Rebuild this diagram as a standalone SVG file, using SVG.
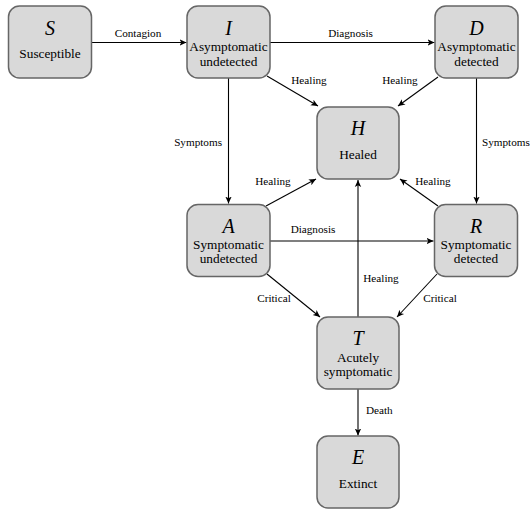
<svg xmlns="http://www.w3.org/2000/svg" width="530" height="510" viewBox="0 0 530 510">
<defs>
<style>
.box{fill:#d9d9d9;stroke:#666;stroke-width:1.5}
.sym{font-style:italic;font-size:20px;text-anchor:middle}
.lbl{font-size:13.3px;text-anchor:middle}
.el{font-size:11.2px}
.ln{stroke:#000;stroke-width:1.1;fill:none;marker-end:url(#ah)}
</style>
<marker id="ah" markerUnits="userSpaceOnUse" markerWidth="10" markerHeight="10" refX="7" refY="4" orient="auto">
<path d="M0,0.8 L7,4 L0,7.2 L1.8,4 Z" fill="#000"/>
</marker>
</defs>
<rect width="530" height="510" fill="#fff"/>
<g font-family="Liberation Serif, DejaVu Serif, serif" fill="#000">
<g id="connectors">
<line class="ln" x1="92" y1="42.5" x2="186.5" y2="42.5"/>
<line class="ln" x1="270" y1="42.5" x2="434.5" y2="42.5"/>
<line class="ln" x1="267" y1="76" x2="318" y2="106"/>
<line class="ln" x1="438" y1="77" x2="398" y2="106"/>
<line class="ln" x1="228.5" y1="78" x2="228.5" y2="203.5"/>
<line class="ln" x1="476.5" y1="78" x2="476.5" y2="203.5"/>
<line class="ln" x1="266" y1="206" x2="316" y2="179"/>
<line class="ln" x1="438" y1="206" x2="400" y2="179"/>
<line class="ln" x1="358" y1="317" x2="358" y2="180"/>
<line class="ln" x1="270" y1="241" x2="433.5" y2="241"/>
<line class="ln" x1="267" y1="274" x2="320" y2="317"/>
<line class="ln" x1="437" y1="274" x2="397" y2="317"/>
<line class="ln" x1="358" y1="389" x2="358" y2="435.5"/>
<text class="el" x="138" y="37" text-anchor="middle">Contagion</text>
<text class="el" x="350.5" y="37" text-anchor="middle">Diagnosis</text>
<text class="el" x="309" y="84" text-anchor="middle">Healing</text>
<text class="el" x="400" y="84" text-anchor="middle">Healing</text>
<text class="el" x="222" y="146" text-anchor="end">Symptoms</text>
<text class="el" x="482" y="146">Symptoms</text>
<text class="el" x="273" y="185" text-anchor="middle">Healing</text>
<text class="el" x="433" y="185" text-anchor="middle">Healing</text>
<text class="el" x="313" y="233" text-anchor="middle">Diagnosis</text>
<text class="el" x="381" y="282" text-anchor="middle">Healing</text>
<text class="el" x="274" y="302" text-anchor="middle">Critical</text>
<text class="el" x="440" y="302" text-anchor="middle">Critical</text>
<text class="el" x="366" y="414">Death</text>
</g>
<g id="S">
<rect class="box" x="8.5" y="6" width="83" height="72" rx="11"/>
<text class="sym" x="50" y="35">S</text>
<text class="lbl" x="50" y="57.5">Susceptible</text>
</g>
<g id="I">
<rect class="box" x="187" y="6" width="83" height="72" rx="11"/>
<text class="sym" x="228.5" y="35">I</text>
<text class="lbl" x="228.5" y="51">Asymptomatic</text>
<text class="lbl" x="228.5" y="66">undetected</text>
</g>
<g id="D">
<rect class="box" x="435" y="6" width="83" height="72" rx="11"/>
<text class="sym" x="476.5" y="35">D</text>
<text class="lbl" x="476.5" y="51">Asymptomatic</text>
<text class="lbl" x="476.5" y="66">detected</text>
</g>
<g id="H">
<rect class="box" x="317" y="107" width="82" height="72" rx="11"/>
<text class="sym" x="358" y="135">H</text>
<text class="lbl" x="358" y="159">Healed</text>
</g>
<g id="A">
<rect class="box" x="187" y="204.5" width="83" height="72" rx="11"/>
<text class="sym" x="228.5" y="233">A</text>
<text class="lbl" x="228.5" y="249">Symptomatic</text>
<text class="lbl" x="228.5" y="263">undetected</text>
</g>
<g id="R">
<rect class="box" x="434.5" y="204.5" width="83" height="72" rx="11"/>
<text class="sym" x="476" y="233">R</text>
<text class="lbl" x="476" y="249">Symptomatic</text>
<text class="lbl" x="476" y="263">detected</text>
</g>
<g id="T">
<rect class="box" x="317" y="317" width="82" height="72" rx="11"/>
<text class="sym" x="358" y="345">T</text>
<text class="lbl" x="358" y="362">Acutely</text>
<text class="lbl" x="358" y="376">symptomatic</text>
</g>
<g id="E">
<rect class="box" x="317" y="436" width="82" height="72" rx="11"/>
<text class="sym" x="358" y="464">E</text>
<text class="lbl" x="358" y="488">Extinct</text>
</g>
</g>
</svg>
